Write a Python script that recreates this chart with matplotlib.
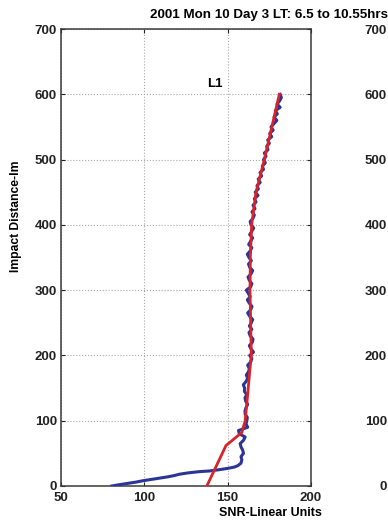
import numpy as np
import matplotlib
matplotlib.use("Agg")
import matplotlib.pyplot as plt

plt.rcParams['font.family'] = ['Liberation Sans', 'DejaVu Sans']
plt.rcParams['font.weight'] = 'bold'

# measured SNR profile (blue), height in m
blue_h = [0, 2, 4, 6, 8, 10, 12, 14, 16, 18, 20, 22, 23, 25, 27, 29, 31, 35,
          40, 45, 50, 55, 60, 65, 70, 75, 80, 85, 90, 95, 100, 105, 110, 115,
          120, 125, 130, 135, 140, 145, 150, 155, 160, 165, 170, 175, 180, 185,
          190, 195, 200, 205, 210, 215, 220, 225, 230, 235, 240, 245, 250, 255,
          260, 265, 270, 275, 280, 285, 290, 295, 300, 305, 310, 315, 320, 325,
          330, 335, 340, 345, 350, 355, 360, 365, 370, 375, 380, 385, 390, 395,
          400, 405, 410, 415, 420, 425, 430, 435, 440, 445, 450, 455, 460, 465,
          470, 475, 480, 485, 490, 495, 500, 505, 510, 515, 520, 525, 530, 535,
          540, 545, 550, 555, 560, 565, 570, 575, 580, 585, 590, 595, 600]
blue_snr = [80.5, 85, 90, 95, 99, 104, 109, 114, 118, 121, 126, 133, 139, 145, 150, 154, 156, 158,
            158.5, 158, 159.5, 159, 158, 157.5, 159.5, 160.5, 157, 156.5, 162, 161, 161.5, 161.8, 160.5, 160.4,
            161, 162, 160.8, 160.4, 161.5, 160, 160.2, 159.4, 161, 162, 161.2, 162.5, 163, 162,
            163.8, 164.5, 163.2, 165.5, 164, 163, 164.8, 165.2, 163.5, 162.8, 164.5, 163, 164.2, 165,
            163.2, 162, 163.8, 164.6, 163, 161.8, 163.5, 162.4, 161.2, 163.8, 164.5, 163, 162.2, 164,
            165, 163.2, 162.5, 164.2, 162.8, 161.8, 163.5, 164.5, 162.6, 163.8, 165, 163.2, 164.4, 165.6,
            164, 163.5, 165.2, 166, 164.6, 166.4, 165.2, 167, 166, 168.2, 166.5, 168.4, 167.6, 169.5,
            168.3, 170.4, 169.4, 171.5, 170.8, 172.6, 171.5, 173, 172, 174.2, 173.4, 175, 174, 176.4,
            175.2, 177.3, 176, 177.8, 179.5, 177.8, 179.8, 178.6, 181.5, 179.6, 181.2, 182.2, 181.5]

# fitted profile (red)
red_h = [0, 62, 82, 100, 140, 180, 200, 250, 300, 350, 400, 450, 500, 550, 600]
red_snr = [137.5, 149, 158.5, 160.5, 162, 163.4, 164.2, 163.8, 163.4, 163.6, 164.4, 167, 172, 176.5, 181]

x_ticks = [50, 100, 150, 200]
y_ticks = [0, 100, 200, 300, 400, 500, 600, 700]

fig = plt.figure(figsize=(3.88, 5.23), dpi=100)
W, H = 388.0, 523.0
ax = fig.add_axes([61 / W, 1 - 486 / H, 250 / W, 457 / H])

ax.plot(blue_snr, blue_h, color='#2b3596', lw=2.2, zorder=3)
ax.plot(red_snr, red_h, color='#d8232a', lw=2.0, zorder=4)

ax.set_xlim(50, 200)
ax.set_ylim(0, 700)
ax.set_xticks(x_ticks)
ax.set_yticks(y_ticks)
ax.tick_params(direction='in', length=3, width=0.8, top=True, right=True,
               labelsize=9.5, colors='#222222', pad=3)
ax.tick_params(axis='x', pad=4.5)
ax.grid(True, ls=':', color='#a8a8a8', lw=0.8)
for s in ax.spines.values():
    s.set_color('#3a3a3a')
    s.set_linewidth(1.1)

ax.text(137.5, 606, 'L1', fontsize=9.5, fontweight='bold', ha='left', va='bottom')

ax.set_ylabel('Impact Distance-lm', fontsize=8.7, fontweight='bold')
ax.yaxis.set_label_coords(-0.157, 0.59)
ax.set_xlabel('SNR-Linear Units', fontsize=9, fontweight='bold')
ax.xaxis.set_label_coords(0.836, -0.045)

fig.text(268.5 / W, 1 - 15 / H, '2001 Mon 10 Day 3 LT: 6.5 to 10.55hrs',
         fontsize=9.6, fontweight='bold', ha='center', va='center')

# neighbouring panel, mostly outside the frame
ax2 = fig.add_axes([391 / W, 1 - 486 / H, 250 / W, 457 / H])
ax2.set_xlim(0, 150)
ax2.set_ylim(0, 700)
ax2.set_xticks([0])
ax2.set_yticks(y_ticks)
ax2.tick_params(direction='in', length=3, labelsize=9.5, colors='#222222', pad=3)
ax2.tick_params(axis='x', pad=4.5)

fig.savefig('out.png', dpi=100)
